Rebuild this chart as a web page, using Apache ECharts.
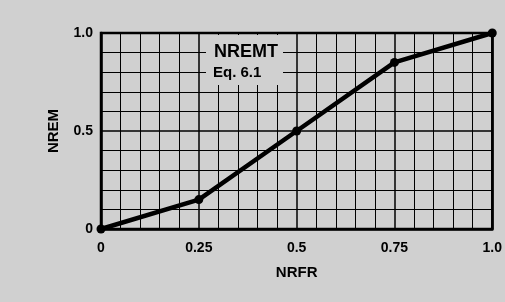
<!DOCTYPE html>
<html>
<head>
<meta charset="utf-8">
<script src="https://cdn.jsdelivr.net/npm/echarts@6/dist/echarts.min.js"></script>
<style>
html,body{margin:0;padding:0;background:#d0d0d0;}
#c{width:505px;height:302px;}
</style>
</head>
<body>
<div id="c"></div>
<script>
var nrfr = [0, 0.25, 0.5, 0.75, 1.0];
var nrem = [0, 0.15, 0.5, 0.85, 1.0];
var xTickLabels = {"0": "0", "0.25": "0.25", "0.5": "0.5", "0.75": "0.75", "1": "1.0"};
var yTickLabels = {"0": "0", "0.5": "0.5", "1": "1.0"};
var annotTitle = "NREMT";
var annotSub = "Eq. 6.1";

var font = "'Liberation Sans', Arial, sans-serif";
var bg = '#d0d0d0';
var chart = echarts.init(document.getElementById('c'), null, {renderer: 'canvas'});
var pts = nrfr.map(function (x, i) { return [x, nrem[i]]; });

chart.setOption({
  backgroundColor: bg,
  animation: false,
  grid: {left: 101, right: 12, top: 33, bottom: 73, show: true, borderColor: '#000', borderWidth: 2.5, backgroundColor: 'transparent'},
  xAxis: {
    type: 'value', min: 0, max: 1, interval: 0.25,
    name: 'NRFR', nameLocation: 'middle', nameGap: 36,
    nameTextStyle: {fontFamily: font, fontWeight: 'bold', fontSize: 15, color: '#000'},
    axisLine: {show: true, lineStyle: {color: '#000', width: 2.5}},
    axisTick: {show: false},
    axisLabel: {fontFamily: font, fontWeight: 'bold', fontSize: 14, color: '#000', margin: 12,
      formatter: function (v) { return xTickLabels[String(v)] || ''; }},
    splitLine: {show: true, lineStyle: {color: '#000', width: 1.5}},
    minorTick: {show: false, splitNumber: 5},
    minorSplitLine: {show: true, lineStyle: {color: '#000', width: 1}}
  },
  yAxis: {
    type: 'value', min: 0, max: 1, interval: 0.5,
    name: 'NREM', nameLocation: 'middle', nameGap: 40, nameRotate: 90,
    nameTextStyle: {fontFamily: font, fontWeight: 'bold', fontSize: 15, color: '#000'},
    axisLine: {show: true, lineStyle: {color: '#000', width: 2.5}},
    axisTick: {show: false},
    axisLabel: {fontFamily: font, fontWeight: 'bold', fontSize: 14, color: '#000', margin: 8,
      formatter: function (v) { return yTickLabels[String(v)] || ''; }},
    splitLine: {show: true, lineStyle: {color: '#000', width: 1.5}},
    minorTick: {show: false, splitNumber: 5},
    minorSplitLine: {show: true, lineStyle: {color: '#000', width: 1}}
  },
  graphic: [{
    type: 'group', z: 50,
    children: [
      {type: 'rect', shape: {x: 206, y: 35, width: 77, height: 50}, style: {fill: bg}, z: 50},
      {type: 'text', x: 214, y: 43, z: 51, style: {text: annotTitle, fontFamily: font, fontWeight: 'bold', fontSize: 18, fill: '#000'}},
      {type: 'text', x: 213, y: 65, z: 51, style: {text: annotSub, fontFamily: font, fontWeight: 'bold', fontSize: 15, fill: '#000'}}
    ]
  }],
  series: [{
    type: 'line', data: pts,
    lineStyle: {color: '#000', width: 4.5},
    itemStyle: {color: '#000'},
    symbol: 'circle', symbolSize: 9, showSymbol: true, z: 10
  }]
});
</script>
</body>
</html>
